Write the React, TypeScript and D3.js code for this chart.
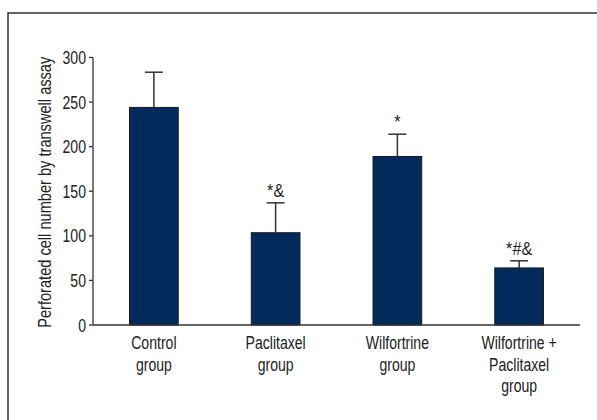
import React, { useEffect, useRef } from "react";
import * as d3 from "d3";

const categories = [
  ["Control", "group"],
  ["Paclitaxel", "group"],
  ["Wilfortrine", "group"],
  ["Wilfortrine +", "Paclitaxel", "group"],
];
const means = [244, 103.5, 189, 64];
const errorsUpper = [283.5, 137, 214, 72];
const annotations = ["", "*&", "*", "*#&"];
const yTicks = [0, 50, 100, 150, 200, 250, 300];
const yTitle = "Perforated cell number by transwell assay";

const W = 597;
const H = 420;
const FONT = "'Liberation Sans', Arial, sans-serif";
const FS = 18.5;
const SX = 0.76;

export default function App() {
  const ref = useRef<SVGSVGElement | null>(null);

  useEffect(() => {
    const svg = d3.select(ref.current);
    svg.selectAll("*").remove();

    const left = 93, right = 580, top = 57.5, bottom = 325;
    const x = d3
      .scaleBand<number>()
      .domain(d3.range(categories.length))
      .range([left, right])
      .paddingInner(0.6)
      .paddingOuter(0.3);
    const y = d3.scaleLinear().domain([0, 300]).range([bottom, top]);

    const label = (
      parent: d3.Selection<any, any, any, any>,
      tx: number,
      ty: number,
      txt: string,
      anchor: string,
      rotate = 0,
      sx = SX,
      fs = FS
    ) => {
      const gg = parent
        .append("g")
        .attr("transform", `translate(${tx},${ty}) rotate(${rotate}) scale(${sx},1)`);
      gg.append("text")
        .attr("x", 0)
        .attr("y", 0)
        .attr("text-anchor", anchor)
        .attr("font-family", FONT)
        .attr("font-size", fs)
        .attr("fill", "#222")
        .text(txt);
      return gg;
    };

    // frame
    svg
      .append("path")
      .attr("d", `M8,${H} L8,13 L${W},13`)
      .attr("fill", "none")
      .attr("stroke", "#333")
      .attr("stroke-width", 1.5);

    const g = svg.append("g");

    // bars
    g.selectAll("rect.bar")
      .data(means)
      .join("rect")
      .attr("class", "bar")
      .attr("x", (_, i) => x(i)!)
      .attr("width", x.bandwidth())
      .attr("y", (d) => y(d))
      .attr("height", (d) => y(0) - y(d))
      .attr("fill", "#022b5b")
      .attr("stroke", "#1a1a1a")
      .attr("stroke-width", 1);

    // error bars
    const cap = 9;
    errorsUpper.forEach((e, i) => {
      const cx = x(i)! + x.bandwidth() / 2;
      g.append("line")
        .attr("x1", cx).attr("x2", cx)
        .attr("y1", y(means[i])).attr("y2", y(e))
        .attr("stroke", "#333").attr("stroke-width", 1.5);
      g.append("line")
        .attr("x1", cx - cap).attr("x2", cx + cap)
        .attr("y1", y(e)).attr("y2", y(e))
        .attr("stroke", "#333").attr("stroke-width", 1.5);
      if (annotations[i]) {
        label(g, cx, y(e) - 6, annotations[i], "middle", 0, 0.85, 19);
      }
    });

    // y axis
    g.append("line")
      .attr("x1", left).attr("x2", left)
      .attr("y1", top).attr("y2", bottom)
      .attr("stroke", "#333").attr("stroke-width", 1.3);
    yTicks.forEach((t) => {
      g.append("line")
        .attr("x1", left - 4).attr("x2", left)
        .attr("y1", y(t)).attr("y2", y(t))
        .attr("stroke", "#333").attr("stroke-width", 1.3);
      label(g, left - 7, y(t) + 6.5, String(t), "end");
    });

    // x axis line
    g.append("line")
      .attr("x1", left).attr("x2", right)
      .attr("y1", bottom).attr("y2", bottom)
      .attr("stroke", "#333").attr("stroke-width", 1.3);

    // x labels
    categories.forEach((lines, i) => {
      const cx = x(i)! + x.bandwidth() / 2;
      lines.forEach((ln, j) => {
        label(g, cx, 349 + j * 21.5, ln, "middle");
      });
    });

    // y title
    label(g, 51, (top + bottom) / 2 + 1, yTitle, "middle", -90, 0.79);
  }, []);

  return (
    <svg
      ref={ref}
      width={W}
      height={H}
      style={{ position: "absolute", left: 0, top: 0, background: "#fff" }}
    />
  );
}
